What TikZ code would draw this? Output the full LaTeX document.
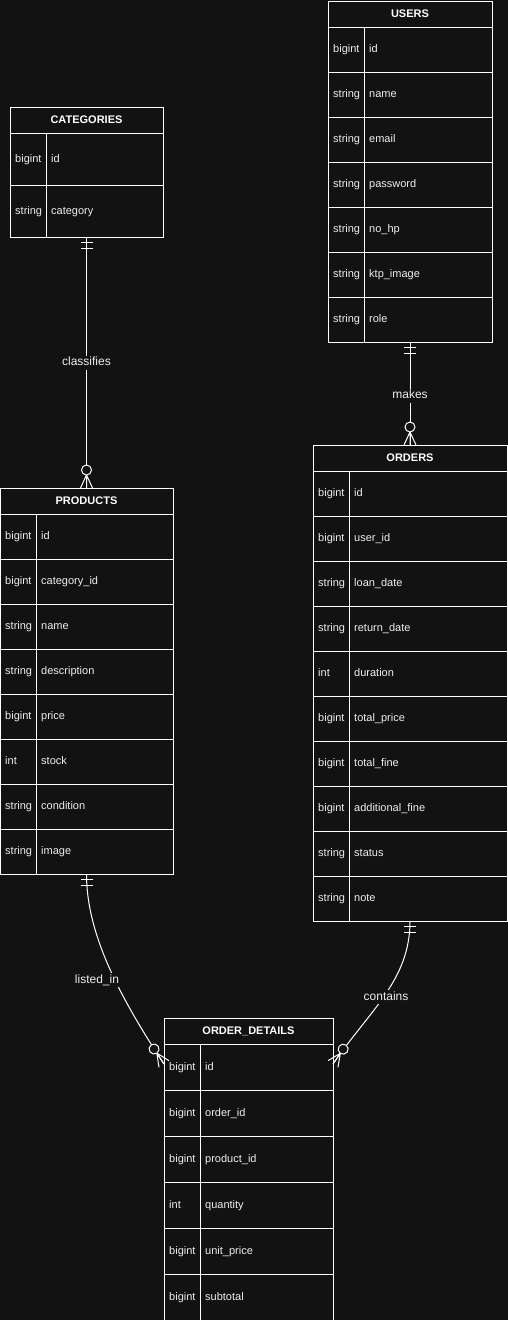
\documentclass[tikz,border=0pt]{standalone}
\usepackage{fontspec}
\setmainfont{Liberation Sans}
\usetikzlibrary{calc,fit}
\definecolor{bg}{HTML}{121212}
\definecolor{fg}{HTML}{FFFFFF}
\definecolor{tx}{HTML}{EEEEEE}
\tikzset{
 tline/.style={draw=fg, line width=1pt},
 hdr/.style={draw=fg, line width=1pt, inner sep=0, outer sep=0, font=\fontsize{11}{13}\selectfont\bfseries, text=fg, text height=8pt, text depth=2pt},
 rowbox/.style={draw=fg, line width=1pt, inner sep=0, outer sep=0},
 txt/.style={inner sep=0, font=\fontsize{11}{13}\selectfont, text=tx, text height=8pt, text depth=2pt, anchor=west},
 conn/.style={draw=fg, line width=1pt},
 mk/.style={draw=fg, line width=1pt},
 lbl/.style={fill=bg, inner sep=1.5pt, font=\fontsize{12}{14}\selectfont, text=tx, text height=8.5pt, text depth=2.5pt},
 boxfit/.style={inner sep=0, outer sep=0}
}
% #1 name, #2 north-west corner, #3 width, #4 row height, #5 title, #6 rows
\newcommand\entity[6]{%
 \node[hdr, anchor=north west, minimum width=#3, minimum height=26] (#1-h) at (#2) {#5};
 \foreach \ty/\nm [count=\i] in {#6}{%
   \node[rowbox, anchor=north west, minimum width=#3, minimum height=#4] (#1-\i) at ($(#1-h.south west)+(0,{(\i-1)*#4})$) {};
   \draw[tline] ($(#1-\i.north west)+(36,0)$) -- ($(#1-\i.south west)+(36,0)$);
   \node[txt] at ($(#1-\i.west)+(5,0)$) {\ty};
   \node[txt] at ($(#1-\i.west)+(41,0)$) {\nm};
   \coordinate (#1-end) at (#1-\i.south east);
 }
 \node[boxfit, fit=(#1-h)(#1-end)] (#1) {};
}
\newcommand\zmany[2]{%
 \begin{scope}[shift={(#1)},rotate=#2]
  \draw[mk] (-13,0) -- (0,-6) (-13,0) -- (0,0) (-13,0) -- (0,6);
  \draw[mk, fill=bg] (-18,0) circle[radius=5];
 \end{scope}}
\newcommand\mone[2]{%
 \begin{scope}[shift={(#1)},rotate=#2]
  \draw[mk] (5,-6) -- (5,6) (11,-6) -- (11,6);
 \end{scope}}
\begin{document}
\begin{tikzpicture}[x=1pt,y=-1pt]
\fill[bg] (0,0) rectangle (508,1320);
\useasboundingbox (0,0) rectangle (508,1320);

\entity{cat}{10,107}{153}{52}{CATEGORIES}{bigint/id, string/category}
\entity{usr}{328,1}{164}{45}{USERS}{bigint/id, string/name, string/email, string/password, string/no\_hp, string/ktp\_image, string/role}
\entity{ord}{313,445}{194}{45}{ORDERS}{bigint/id, bigint/user\_id, string/loan\_date, string/return\_date, int/duration, bigint/total\_price, bigint/total\_fine, bigint/additional\_fine, string/status, string/note}
\entity{prod}{0,488}{173}{45}{PRODUCTS}{bigint/id, bigint/category\_id, string/name, string/description, bigint/price, int/stock, string/condition, string/image}
\entity{od}{164,1018}{169}{46}{ORDER\_DETAILS}{bigint/id, bigint/order\_id, bigint/product\_id, int/quantity, bigint/unit\_price, bigint/subtotal}

% connectors
\draw[conn] (cat.south) -- (prod.north);
\node[lbl] (l1) at ($(cat.south)!0.5!(prod.north)$) {classifies};
\mone{cat.south}{-90}
\zmany{prod.north}{-90}

\draw[conn] (usr.south) -- (ord.north);
\node[lbl] (l2) at ($(usr.south)!0.5!(ord.north)+(0,2)$) {makes};
\mone{usr.south}{-90}
\zmany{ord.north}{-90}

\coordinate (e3) at ($(od-1.west)+(0,-3)$);
\draw[conn] (prod.south) .. controls +(0,56) and +(-49,-74) .. (e3);
\node[lbl] (l3) at (97,980) {listed\_in};
\mone{prod.south}{-90}
\zmany{e3}{-56.5}

\coordinate (e4) at ($(od-1.east)+(0,-3)$);
\draw[conn] (ord.south) .. controls +(0,59) and +(37,-54) .. (e4);
\node[lbl] (l4) at (386,997) {contains};
\mone{ord.south}{-90}
\zmany{e4}{-124.4}
\end{tikzpicture}
\end{document}
